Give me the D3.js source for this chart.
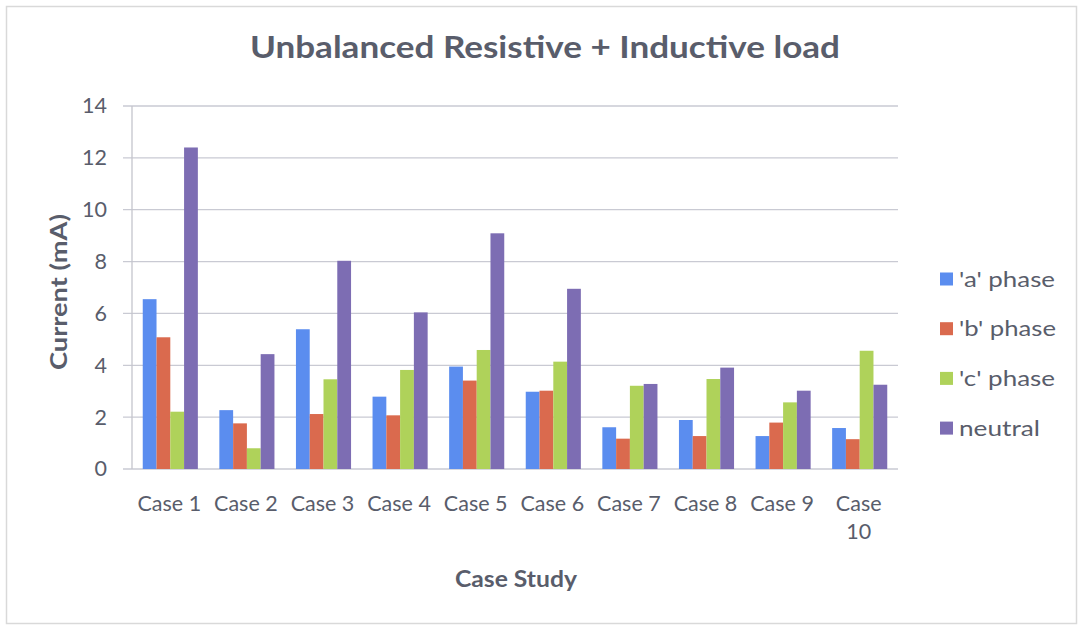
<!DOCTYPE html>
<html><head><meta charset="utf-8">
<script src="https://cdn.jsdelivr.net/npm/d3@7"></script>
<style>body{margin:0;background:#fff;} svg{display:block;font-family:Lato,"Open Sans",sans-serif;}</style>
</head><body><svg id="c" width="1082" height="628"></svg>
<script>
const categories = ["Case 1","Case 2","Case 3","Case 4","Case 5","Case 6","Case 7","Case 8","Case 9","Case 10"];
const seriesNames = ["'a' phase","'b' phase","'c' phase","neutral"];
const aPhase = [6.55,2.27,5.39,2.79,3.95,2.98,1.61,1.89,1.27,1.58];
const bPhase = [5.08,1.76,2.12,2.07,3.41,3.02,1.17,1.27,1.79,1.15];
const cPhase = [2.21,0.80,3.46,3.82,4.59,4.14,3.21,3.47,2.57,4.56];
const neutral = [12.4,4.43,8.03,6.04,9.09,6.95,3.28,3.91,3.02,3.25];
const yTicks = [0,2,4,6,8,10,12,14];
const colors = ["#5b8def","#da6a4e","#afd25a","#7d6db3"];

const series = [aPhase,bPhase,cPhase,neutral];
const svg = d3.select("#c");
const textCol = "#595d6b";

svg.append("rect").attr("x",6.5).attr("y",6.5).attr("width",1070).attr("height",617)
  .attr("fill","#fff").attr("stroke","#d9d9d9").attr("stroke-width",1.5);

const L=132, R=898, T=106, B=469;
const x = d3.scaleBand().domain(categories).range([L,R]).paddingInner(0).paddingOuter(0);
const x1 = d3.scaleBand().domain(seriesNames).range([0,x.bandwidth()]).paddingOuter(0.78).paddingInner(0);
const y = d3.scaleLinear().domain([0,14]).range([B,T]);

// gridlines
svg.append("g").selectAll("line").data(yTicks).join("line")
  .attr("x1",L-9).attr("x2",R).attr("y1",d=>y(d)).attr("y2",d=>y(d))
  .attr("stroke","#c9cad3").attr("stroke-width",1.3);
svg.append("line").attr("x1",L).attr("x2",L).attr("y1",T).attr("y2",B).attr("stroke","#c4c5cc").attr("stroke-width",1.3);

// y tick labels
const ya = d3.axisLeft(y).tickValues(yTicks).tickSize(0).tickPadding(0);
const gy = svg.append("g").attr("transform",`translate(${L-25},0)`).call(ya);
gy.select(".domain").remove();
gy.selectAll("text").attr("font-size",21.5).attr("fill",textCol).attr("font-family","Lato");

// bars
const groups = svg.append("g").selectAll("g").data(categories).join("g")
  .attr("transform",d=>`translate(${x(d)},0)`);
groups.selectAll("rect").data((c,i)=>series.map((s,j)=>({name:seriesNames[j],v:s[i],j}))).join("rect")
  .attr("x",d=>x1(d.name)).attr("width",x1.bandwidth())
  .attr("y",d=>y(d.v)).attr("height",d=>y(0)-y(d.v))
  .attr("fill",d=>colors[d.j]);

// x labels
const xa = d3.axisBottom(x).tickSize(0).tickPadding(0);
const gx = svg.append("g").attr("transform",`translate(-1,${B+27})`).call(xa);
gx.select(".domain").remove();
gx.selectAll("text").attr("font-size",21.5).attr("fill",textCol).attr("font-family","Lato")
  .each(function(d){
    const t=d3.select(this);
    if(d==="Case 10"){
      t.text(null);
      t.append("tspan").attr("x",0).attr("dy","0.71em").text("Case");
      t.append("tspan").attr("x",0).attr("dy","1.3em").text("10");
    }
  });

// title
svg.append("text").attr("x",545).attr("y",58).attr("text-anchor","middle")
  .attr("font-size",31).attr("font-weight","bold").attr("fill",textCol)
  .attr("textLength",590).attr("lengthAdjust","spacingAndGlyphs").text("Unbalanced Resistive + Inductive load");
// axis titles
svg.append("text").attr("transform","translate(67,292) rotate(-90)").attr("text-anchor","middle")
  .attr("font-size",22).attr("font-weight","bold").attr("fill",textCol)
  .attr("textLength",156).attr("lengthAdjust","spacingAndGlyphs").text("Current (mA)");
svg.append("text").attr("x",516).attr("y",587).attr("text-anchor","middle")
  .attr("font-size",22).attr("font-weight","bold").attr("fill",textCol)
  .attr("textLength",122).attr("lengthAdjust","spacingAndGlyphs").text("Case Study");

// legend
const legendWidths = [96,97,96,81];
const lg = svg.append("g").selectAll("g").data(seriesNames).join("g")
  .attr("transform",(d,i)=>`translate(940,${279+i*49.7})`);
lg.append("rect").attr("x",0).attr("y",-6.5).attr("width",13).attr("height",13).attr("fill",(d,i)=>colors[i]);
lg.append("text").attr("x",19).attr("y",0).attr("dy","0.35em").attr("font-size",22).attr("fill",textCol)
  .attr("textLength",(d,i)=>legendWidths[i]).attr("lengthAdjust","spacingAndGlyphs").text(d=>d);
</script></body></html>
